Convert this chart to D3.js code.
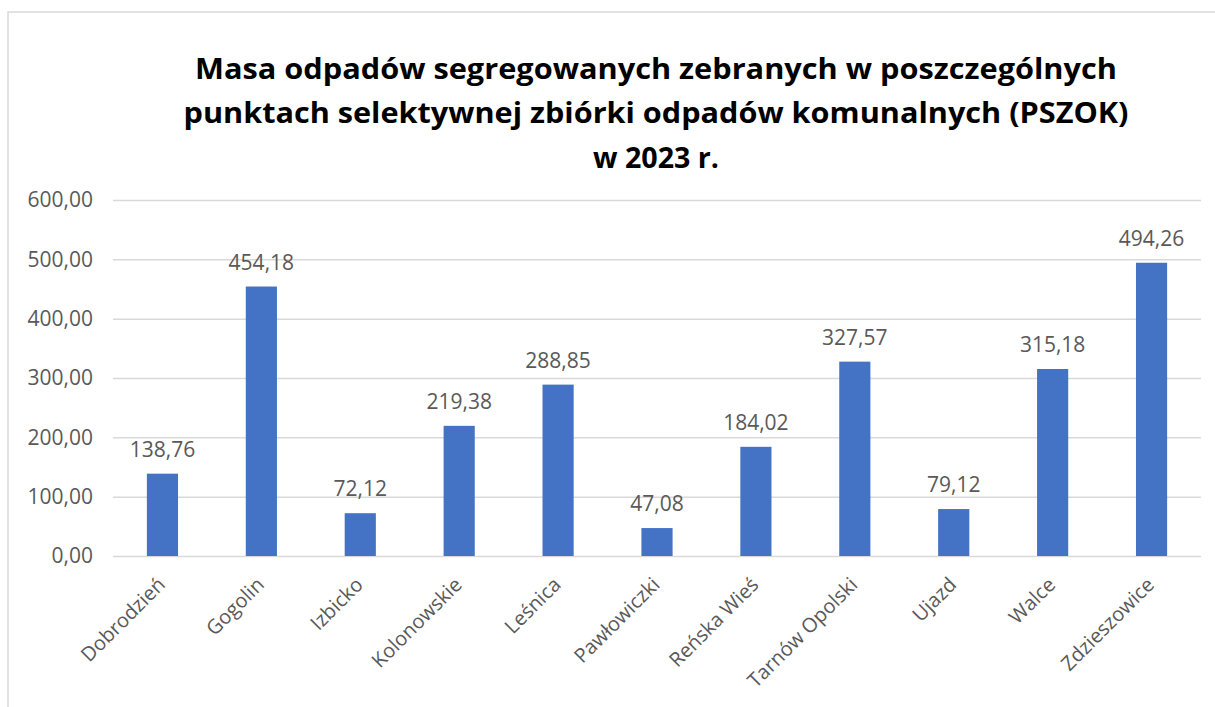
<!DOCTYPE html>
<html>
<head>
<meta charset="utf-8">
<script src="https://cdn.jsdelivr.net/npm/d3@7"></script>
<style>
  html, body { margin: 0; padding: 0; background: #fff; }
  svg { display: block; }
</style>
</head>
<body>
<svg id="chart"></svg>
<script>
// dane z wykresu
const gminy = ['Dobrodzień', 'Gogolin', 'Izbicko', 'Kolonowskie', 'Leśnica', 'Pawłowiczki',
  'Reńska Wieś', 'Tarnów Opolski', 'Ujazd', 'Walce', 'Zdzieszowice'];
const masa = [138.76, 454.18, 72.12, 219.38, 288.85, 47.08, 184.02, 327.57, 79.12, 315.18, 494.26];
const yTicks = [0, 100, 200, 300, 400, 500, 600];
const titleLines = [
  'Masa odpadów segregowanych zebranych w poszczególnych',
  'punktach selektywnej zbiórki odpadów komunalnych (PSZOK)',
  'w 2023 r.'
];

const width = 1215, height = 707;
const margin = { top: 200, right: 14, bottom: 151, left: 113 };
const fmt = (v) => v.toFixed(2).replace('.', ',');

const svg = d3.select('#chart').attr('width', width).attr('height', height);

// ramka wykresu (prawa i dolna krawędź poza kadrem)
svg.append('rect')
  .attr('x', 8).attr('y', 12)
  .attr('width', 1400).attr('height', 900)
  .attr('fill', 'none')
  .attr('stroke', '#d9d9d9')
  .attr('stroke-width', 1.5);

// tytuł
const titleY = [79, 123, 168];
const titleW = [922, 945, 126];
svg.append('g')
  .selectAll('text')
  .data(titleLines)
  .enter()
  .append('text')
  .attr('x', 656)
  .attr('y', (_, i) => titleY[i])
  .attr('text-anchor', 'middle')
  .attr('textLength', (_, i) => titleW[i])
  .attr('lengthAdjust', 'spacingAndGlyphs')
  .style('font-family', '"Open Sans", sans-serif')
  .style('font-weight', 'bold')
  .style('font-size', '28px')
  .style('fill', '#000')
  .text((d) => d);

const xScale = d3.scaleBand()
  .domain(gminy)
  .range([margin.left, width - margin.right])
  .padding(0);

const yScale = d3.scaleLinear()
  .domain([0, 600])
  .range([height - margin.bottom, margin.top]);

const textStyle = (sel, size) => sel
  .style('font-family', '"Open Sans", sans-serif')
  .style('font-size', size)
  .style('fill', '#595959');

// linie siatki + etykiety osi Y
const yAxis = svg.append('g')
  .attr('transform', `translate(${margin.left},0)`)
  .call(d3.axisLeft(yScale)
    .tickValues(yTicks)
    .tickSize(-(width - margin.left - margin.right))
    .tickPadding(20)
    .tickFormat(fmt));
yAxis.select('.domain').remove();
yAxis.selectAll('line').attr('stroke', '#d9d9d9').attr('stroke-width', 1.5);
yAxis.selectAll('text').call(textStyle, '21px');

// słupki
const barW = xScale.bandwidth() * 0.315;
svg.append('g')
  .selectAll('rect')
  .data(masa)
  .enter()
  .append('rect')
  .attr('x', (_, i) => xScale(gminy[i]) + (xScale.bandwidth() - barW) / 2)
  .attr('y', (d) => yScale(d))
  .attr('width', barW)
  .attr('height', (d) => yScale(0) - yScale(d))
  .attr('fill', '#4472c4');

// etykiety danych
svg.append('g')
  .selectAll('text')
  .data(masa)
  .enter()
  .append('text')
  .attr('x', (_, i) => xScale(gminy[i]) + xScale.bandwidth() / 2)
  .attr('y', (d) => yScale(d) - 17)
  .attr('text-anchor', 'middle')
  .call(textStyle, '21px')
  .text((d) => fmt(d));

// etykiety kategorii
const xAxis = svg.append('g')
  .attr('transform', `translate(0,${yScale(0)})`)
  .call(d3.axisBottom(xScale).tickSize(0).tickPadding(0));
xAxis.select('.domain').remove();
xAxis.selectAll('text')
  .attr('transform', 'translate(-1,25) rotate(-45)')
  .attr('dy', '0.35em')
  .attr('y', 0)
  .style('text-anchor', 'end')
  .call(textStyle, '20px');
</script>
</body>
</html>
